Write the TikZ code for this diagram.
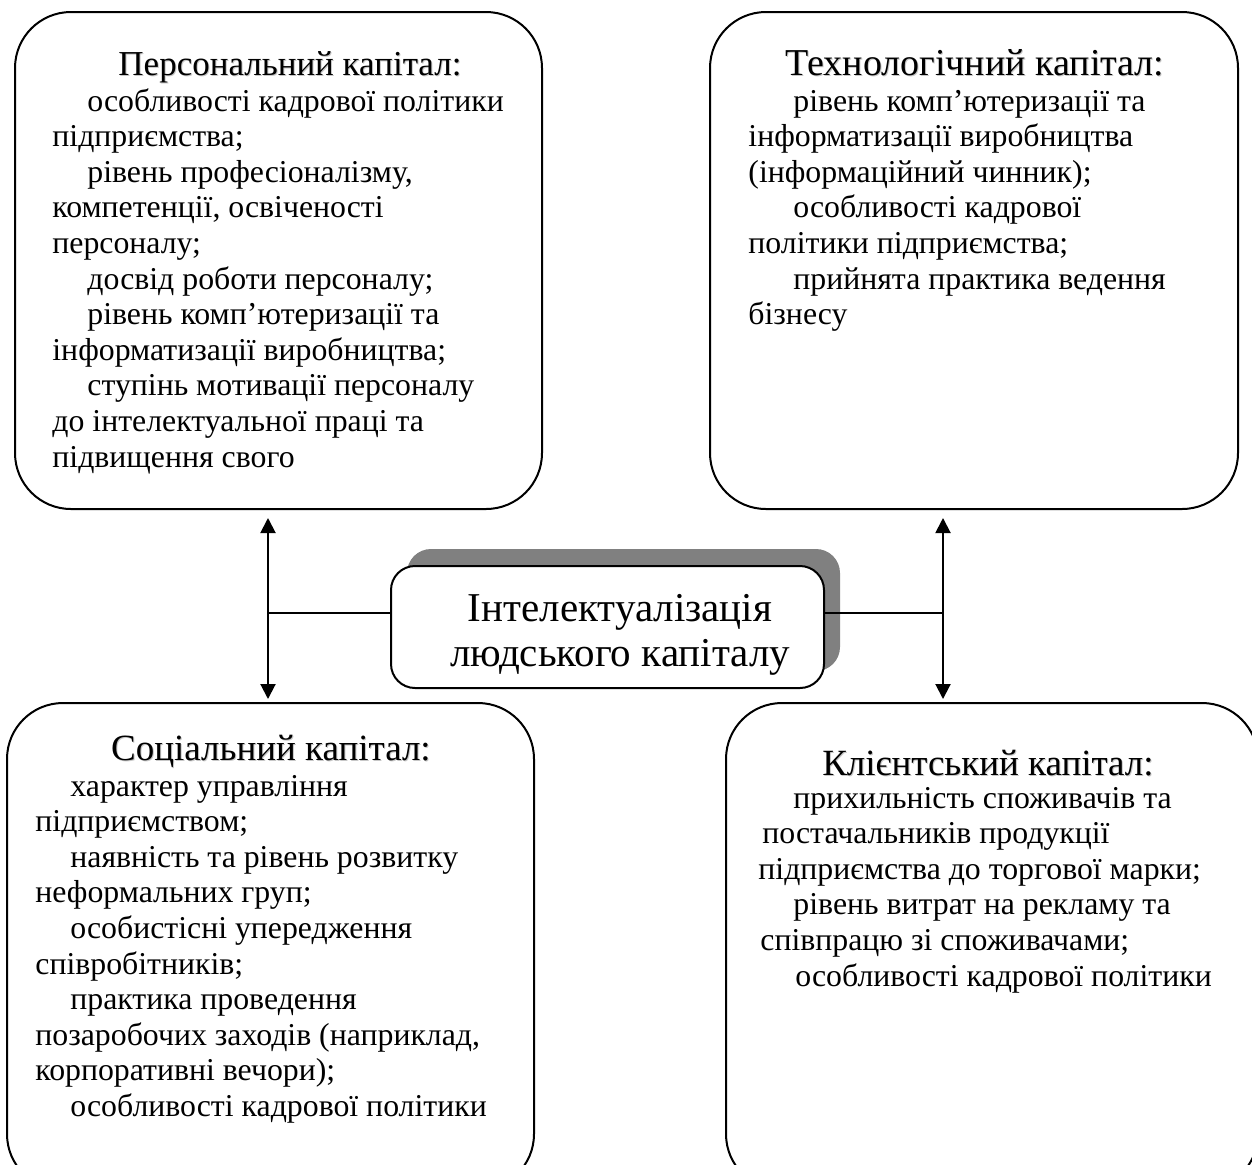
\documentclass[tikz,border=0pt]{standalone}
\usepackage{fontspec}
\setmainfont{Liberation Serif}
\usetikzlibrary{arrows.meta,shadows}

% a left-aligned list whose baseline is that of its first line
\newenvironment{factorlist}{\begin{tabular}[t]{@{}l@{}}}{\end{tabular}}

\begin{document}
\begin{tikzpicture}[x=0.5pt,y=-0.5pt,
  bigbox/.style={draw, line width=1pt, rounded corners=28pt, fill=white, inner sep=0pt},
  hub/.style={draw, line width=1pt, rounded corners=12pt, fill=white,
    minimum width=216.5pt, minimum height=61pt, inner sep=0pt,
    drop shadow={shadow xshift=8pt, shadow yshift=8.5pt, fill=black!50, opacity=1}},
  head/.style={font=\fontsize{18.5}{22}\selectfont, anchor=base, inner sep=0pt},
  headshade/.style={head, text=black!22},
  body/.style={font=\fontsize{15.9}{17.8}\selectfont, anchor=base west, inner sep=0pt},
  hubtext/.style={font=\fontsize{20.5}{22.5}\selectfont, anchor=base, inner sep=0pt},
  link/.style={line width=0.75pt},
  biarrow/.style={line width=1pt,
    {Triangle[length=7.5pt,width=7.5pt]}-{Triangle[length=7.5pt,width=7.5pt]}}
]
\useasboundingbox (0,0) rectangle (1252,1164);
\clip (0,0) rectangle (1252,1164);

% the four capital blocks
\node[bigbox, minimum width=263.5pt, minimum height=248.5pt] (pers) at (278.5,260.5) {};
\node[bigbox, minimum width=264pt, minimum height=248.5pt] (tech) at (974,260.5) {};
\node[bigbox, minimum width=263.5pt, minimum height=243.5pt] (soc) at (270.5,946.5) {};
\node[bigbox, minimum width=266pt, minimum height=243.5pt] (cli) at (992,946.5) {};

% central block with its shadow
\node[hub] (hub) at (607.5,627) {};
\node[hubtext] (hubA) at (620,621) {Інтелектуалізація};
\node[hubtext] (hubB) at (620,666) {людського капіталу};

% headings (with a faint offset shade)
\node[headshade, font=\fontsize{17.5}{22}\selectfont] (persH0) at (291,76) {Персональний капітал:};
\node[head, font=\fontsize{17.5}{22}\selectfont] (persH) at (290,75) {Персональний капітал:};
\node[headshade, font=\fontsize{19}{22}\selectfont] (techH0) at (976,76) {Технологічний капітал:};
\node[head, font=\fontsize{19}{22}\selectfont] (techH) at (975,75) {Технологічний капітал:};
\node[headshade] (socH0) at (272,761) {Соціальний капітал:};
\node[head] (socH) at (271,760) {Соціальний капітал:};
\node[headshade] (cliH0) at (989,776) {Клієнтський капітал:};
\node[head] (cliH) at (988,775) {Клієнтський капітал:};

% lists of factors
\node[body] (persB) at (52,111) {\begin{factorlist}
\hspace*{17.5pt}особливості кадрової політики\\
підприємства;\\
\hspace*{17.5pt}рівень професіоналізму,\\
компетенції, освіченості\\
персоналу;\\
\hspace*{17.5pt}досвід роботи персоналу;\\
\hspace*{17.5pt}рівень комп’ютеризації та\\
інформатизації виробництва;\\
\hspace*{17.5pt}ступінь мотивації персоналу\\
до інтелектуальної праці та\\
підвищення свого
\end{factorlist}};

\node[body] (techB) at (748,111) {\begin{factorlist}
\hspace*{22.5pt}рівень комп’ютеризації та\\
інформатизації виробництва\\
(інформаційний чинник);\\
\hspace*{22.5pt}особливості кадрової\\
політики підприємства;\\
\hspace*{22.5pt}прийнята практика ведення\\
бізнесу
\end{factorlist}};

\node[body] (socB) at (35,796) {\begin{factorlist}
\hspace*{17.5pt}характер управління\\
підприємством;\\
\hspace*{17.5pt}наявність та рівень розвитку\\
неформальних груп;\\
\hspace*{17.5pt}особистісні упередження\\
співробітників;\\
\hspace*{17.5pt}практика проведення\\
позаробочих заходів (наприклад,\\
корпоративні вечори);\\
\hspace*{17.5pt}особливості кадрової політики
\end{factorlist}};

\node[body] (cliB) at (758,808) {\begin{factorlist}
\hspace*{17.5pt}прихильність споживачів та\\
\hspace*{2pt}постачальників продукції\\
підприємства до торгової марки;\\
\hspace*{17.5pt}рівень витрат на рекламу та\\
\hspace*{1pt}співпрацю зі споживачами;\\
\hspace*{18.5pt}особливості кадрової політики
\end{factorlist}};

% connectors
\coordinate (lx) at (268,613);
\coordinate (rx) at (943,613);
\draw[link] (lx) -- (lx -| hub.west);
\draw[link] (hub.east |- rx) -- (rx);
\draw[biarrow, shorten <=4pt, shorten >=1.5pt] (lx |- pers.south) -- (lx |- soc.north);
\draw[biarrow, shorten <=4pt, shorten >=1.5pt] (rx |- tech.south) -- (rx |- cli.north);
\end{tikzpicture}
\end{document}
